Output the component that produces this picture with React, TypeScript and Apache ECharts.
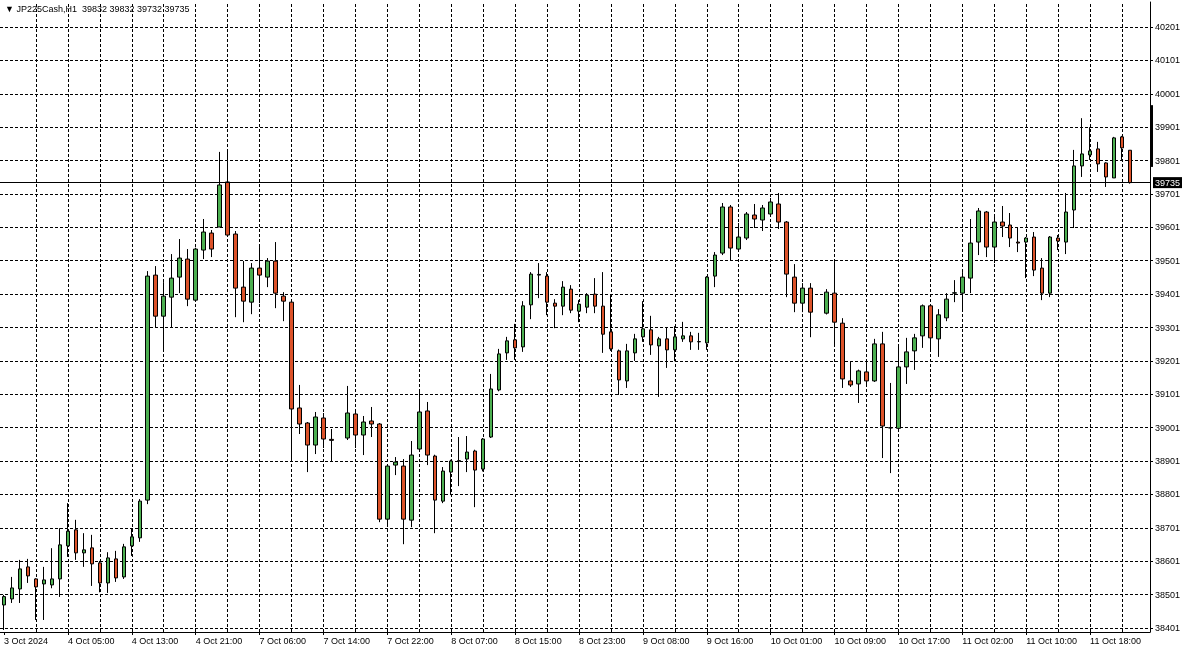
import React, { useEffect, useRef } from "react";
import * as echarts from "echarts";

const symbolName = "JP225Cash,H1";
const tickLabels = [
  "3 Oct 2024", "4 Oct 05:00", "4 Oct 13:00", "4 Oct 21:00", "7 Oct 06:00", "7 Oct 14:00",
  "7 Oct 22:00", "8 Oct 07:00", "8 Oct 15:00", "8 Oct 23:00", "9 Oct 08:00", "9 Oct 16:00",
  "10 Oct 01:00", "10 Oct 09:00", "10 Oct 17:00", "11 Oct 02:00", "11 Oct 10:00", "11 Oct 18:00",
];
const priceTicks = [
  38401, 38501, 38601, 38701, 38801, 38901, 39001, 39101, 39201, 39301,
  39401, 39501, 39601, 39701, 39801, 39901, 40001, 40101, 40201,
];

const opens = [
  38470, 38488, 38518, 38584, 38548, 38533, 38530, 38548, 38647, 38695,
  38626, 38641, 38596, 38536, 38608, 38554, 38647, 38671, 38784, 39458,
  39335, 39392, 39452, 39506, 39383, 39533, 39584, 39602, 39737, 39581,
  39422, 39377, 39479, 39452, 39500, 39395, 39377, 39060, 39015, 38949,
  39030, 38966, null, 38970, 39042, 38979, 39021, 39012, 38727, 38889,
  38886, 38724, 38937, 39051, 38916, 38781, 38868, 38901, 38907, 38931,
  38877, 38973, 39114, 39225, 39264, 39243, 39369, 39458, 39455, 39374,
  39365, 39416, 39350, 39362, 39401, 39365, 39288, 39231, 39141, 39225,
  39273, 39294, 39246, 39267, 39234, 39267, 39276, 39258, 39255, 39455,
  39524, 39662, 39536, 39569, 39638, 39623, 39641, 39671, 39617, 39452,
  39374, 39419, null, 39344, 39404, 39314, 39141, 39132, 39168, 39141,
  39252, 39000, 38999, 39183, 39231, 39276, 39366, 39267, 39330, 39404,
  39404, 39449, 39557, 39647, 39542, 39617, 39608, 39557, 39557, 39572,
  39479, 39404, 39569, 39557, 39653, 39785, 39818, 39836, 39794, 39749,
  39872, 39832,
];
const closes = [
  38495, 38521, 38578, 38557, 38524, 38545, 38548, 38650, 38691, 38626,
  38635, 38593, 38536, 38611, 38551, 38644, 38674, 38781, 39455, 39335,
  39395, 39449, 39509, 39386, 39536, 39587, 39536, 39728, 39578, 39419,
  39380, 39479, 39458, 39500, 39404, 39380, 39057, 39012, 38949, 39033,
  38967, 38963, null, 39045, 38979, 39018, 39012, 38727, 38886, 38898,
  38727, 38919, 39048, 38919, 38784, 38871, 38901, 38902, 38928, 38874,
  38967, 39117, 39222, 39261, 39240, 39366, 39461, 39460, 39377, 39365,
  39422, 39353, 39371, 39398, 39365, 39281, 39237, 39144, 39231, 39267,
  39297, 39249, 39267, 39234, 39273, 39276, 39258, 39259, 39452, 39518,
  39662, 39539, 39572, 39641, 39626, 39659, 39677, 39617, 39461, 39374,
  39419, 39347, null, 39407, 39317, 39147, 39129, 39171, 39141, 39252,
  39006, 39001, 39183, 39228, 39270, 39366, 39270, 39339, 39386, 39405,
  39452, 39554, 39650, 39542, 39617, 39605, 39569, 39554, 39569, 39473,
  39404, 39572, 39560, 39647, 39785, 39821, 39830, 39791, 39752, 39869,
  39839, 39735,
];
const lows = [
  38395, 38476, 38476, 38536, 38425, 38425, 38520, 38494, 38614, 38605,
  38584, 38527, 38508, 38506, 38539, 38548, 38617, 38659, 38772, 39302,
  39231, 39302, 39404, 39365, 39380, 39506, 39512, 39602, 39575, 39332,
  39317, 39341, 39374, 39422, 39359, 39320, 38904, 38982, 38868, 38922,
  38940, 38901, null, 38964, 38940, 38919, 38973, 38718, 38706, 38859,
  38652, 38703, 38930, 38889, 38685, 38775, 38799, 38826, 38868, 38763,
  38870, 38970, 39110, 39204, 39204, 39228, 39326, 39389, 39338, 39299,
  39338, 39344, 39317, 39344, 39344, 39225, 39231, 39099, 39120, 39201,
  39258, 39219, 39093, 39180, 39200, 39258, 39234, 39234, 39234, 39422,
  39518, 39503, 39533, 39563, 39599, 39590, 39632, 39596, 39392, 39347,
  39347, 39272, null, 39340, 39248, 39120, 39123, 39075, 39123, 39138,
  38910, 38865, 38995, 39132, 39174, 39240, 39231, 39213, 39320, 39377,
  39353, 39404, 39518, 39512, 39494, 39572, 39542, 39527, 39449, 39455,
  39383, 39392, 39533, 39521, 39599, 39752, 39803, 39767, 39722, 39749,
  39803, 39732,
];
const highs = [
  38500, 38554, 38605, 38608, 38550, 38584, 38640, 38700, 38775, 38725,
  38685, 38680, 38602, 38628, 38632, 38653, 38700, 38787, 39470, 39485,
  39437, 39521, 39566, 39536, 39540, 39626, 39593, 39827, 39827, 39590,
  39500, 39494, 39542, 39509, 39557, 39407, 39383, 39129, 39018, 39048,
  39045, 38997, null, 39126, 39057, 39036, 39063, 39015, 38890, 38913,
  38907, 38961, 39108, 39078, 38920, 38883, 38905, 38973, 38976, 38935,
  38970, 39162, 39237, 39273, 39312, 39380, 39467, 39494, 39467, 39386,
  39440, 39428, 39383, 39404, 39449, 39467, 39398, 39235, 39252, 39282,
  39380, 39336, 39273, 39302, 39305, 39318, 39288, 39285, 39455, 39527,
  39674, 39668, 39614, 39647, 39671, 39668, 39689, 39704, 39620, 39491,
  39434, 39434, null, 39416, 39503, 39329, 39198, 39175, 39198, 39267,
  39288, 39135, 39243, 39270, 39282, 39370, 39371, 39356, 39404, 39443,
  39467, 39626, 39659, 39650, 39638, 39665, 39644, 39602, 39572, 39587,
  39509, 39575, 39578, 39704, 39833, 39928, 39901, 39857, 39796, 39872,
  39875, 39832,
];
const sideBar = [39782, 39967];

const FONT = '"Liberation Sans", Arial, sans-serif';

export default function App() {
  const ref = useRef<HTMLDivElement>(null);
  useEffect(() => {
    document.body.style.margin = "0";
    const chart = echarts.init(ref.current as HTMLDivElement, null, { renderer: "svg" });
    const n = opens.length;
    const slots = n + 2;
    const cats = Array.from({ length: slots }, (_, i) => String(i));
    const data = opens.map((o, i) =>
      o == null ? ["-", "-", "-", "-"] : [o, closes[i], lows[i], highs[i]]
    );
    const last = n - 1;
    const lastClose = closes[last] as number;
    const gridStyle = { color: "#000", type: [3, 2], width: 1 };
    const vLines = cats
      .map((c, i) => i)
      .filter((i) => i % 4 === 0 && i > 0)
      .map((i) => ({ xAxis: i, lineStyle: gridStyle, label: { show: false } }));
    const hLines = priceTicks.map((v) => ({
      yAxis: v,
      lineStyle: gridStyle,
      label: { show: false },
    }));
    const header = `${symbolName}  ${opens[last]} ${highs[last]} ${lows[last]} ${closes[last]}`;

    chart.setOption({
      animation: false,
      grid: { left: -2, top: 2, right: 36, bottom: 19, show: false },
      xAxis: {
        type: "category",
        data: cats,
        boundaryGap: true,
        axisLine: { show: true, lineStyle: { color: "#000", width: 1 } },
        axisTick: {
          show: true,
          alignWithLabel: true,
          length: 3,
          interval: (i: number) => i % 8 === 0 && i / 8 < tickLabels.length,
          lineStyle: { color: "#000" },
        },
        axisLabel: {
          interval: (i: number) => i % 8 === 0 && i / 8 < tickLabels.length,
          formatter: (v: string, i: number) => tickLabels[i / 8] ?? "",
          align: "left",
          color: "#000",
          fontSize: 9,
          fontFamily: FONT,
          margin: 4,
        },
        splitLine: { show: false },
      },
      yAxis: {
        type: "value",
        position: "right",
        min: 38389,
        max: 40276,
        scale: true,
        axisLine: { show: true, lineStyle: { color: "#000", width: 1 } },
        axisTick: {
          show: true,
          length: 3,
          customValues: priceTicks,
          lineStyle: { color: "#000" },
        },
        axisLabel: {
          customValues: priceTicks,
          color: "#000",
          fontSize: 9,
          fontFamily: FONT,
          margin: 5,
          formatter: (v: number) => String(v),
        },
        splitLine: { show: false },
      },
      series: [
        {
          type: "line",
          data: [],
          silent: true,
          z: 1,
          markLine: {
            silent: true,
            symbol: "none",
            animation: false,
            z: 1,
            data: [...vLines, ...hLines],
          },
        },
        {
          type: "candlestick",
          data,
          barWidth: 4,
          z: 3,
          itemStyle: {
            color: "#4caf50",
            color0: "#dc5229",
            borderColor: "#000",
            borderColor0: "#000",
            borderWidth: 1,
          },
          markLine: {
            silent: true,
            symbol: "none",
            animation: false,
            z: 4,
            data: [
              {
                yAxis: lastClose,
                lineStyle: { color: "#000", type: "solid", width: 1 },
                label: {
                  show: true,
                  position: "end",
                  distance: 3,
                  formatter: String(lastClose),
                  backgroundColor: "#000",
                  color: "#fff",
                  fontSize: 9,
                  fontFamily: FONT,
                  padding: [1, 2, 1, 2],
                },
              },
            ],
          },
        },
      ],
    });

    const y1 = chart.convertToPixel({ yAxisIndex: 0 }, sideBar[0]) as number;
    const y2 = chart.convertToPixel({ yAxisIndex: 0 }, sideBar[1]) as number;
    const right = 1186 - 36;
    chart.setOption({
      graphic: [
        {
          type: "text",
          left: 5,
          top: 4,
          style: { text: "▼ " + header, font: `9px ${FONT}`, fill: "#000" },
          z: 100,
        },
        {
          type: "rect",
          shape: { x: right, y: y2, width: 3, height: y1 - y2 },
          style: { fill: "#000" },
          z: 100,
        },
      ],
    });
    return () => chart.dispose();
  }, []);
  return (
    <div
      ref={ref}
      style={{ position: "fixed", left: 0, top: 0, width: 1186, height: 651 }}
    />
  );
}
